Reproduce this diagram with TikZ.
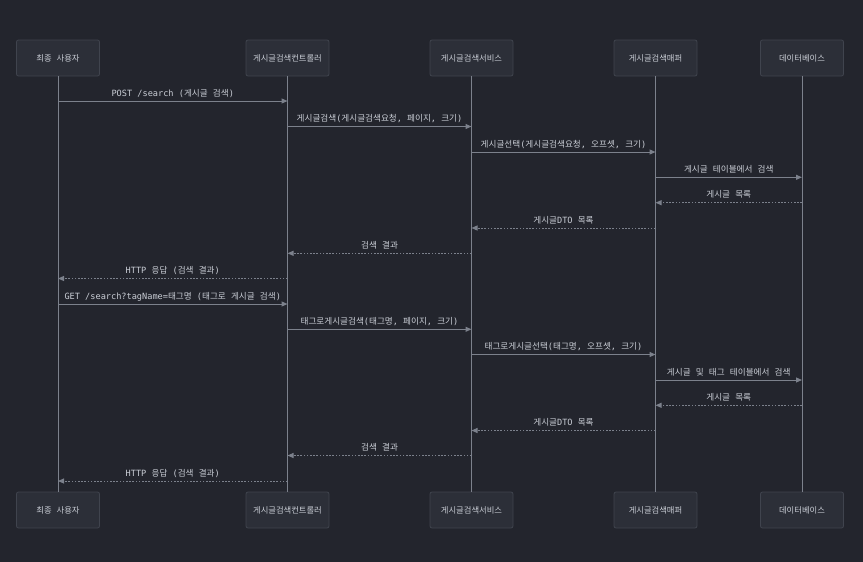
\documentclass[tikz,border=0pt]{standalone}
\usepackage{fontspec}
\setmainfont{DejaVu Sans Mono}
\newfontfamily\kr{Noto Sans CJK KR}
\usetikzlibrary{arrows.meta}
\definecolor{bgc}{HTML}{23252D}
\definecolor{boxfill}{HTML}{2C2F38}
\definecolor{boxline}{HTML}{40444E}
\definecolor{linec}{HTML}{7C818C}
\definecolor{txtc}{HTML}{CACED6}
\tikzset{
  actor/.style={draw=boxline, fill=boxfill, rounded corners=2pt, minimum width=83pt, minimum height=36pt, inner sep=0pt, text=txtc, font=\fontsize{8.3}{10}\selectfont, line width=0.8pt},
  life/.style={draw=linec, line width=0.9pt},
  msg/.style={draw=linec, line width=1pt, -{Triangle[length=6pt,width=5pt]}},
  ret/.style={msg, dash pattern=on 1.6pt off 1.6pt},
  lbl/.style={anchor=base, yshift=5pt, text=txtc, font=\fontsize{8.6}{10}\selectfont, inner sep=0pt}
}
\begin{document}
\begin{tikzpicture}[x=1pt,y=-1pt]
\fill[bgc] (0,0) rectangle (863,562);
\useasboundingbox (0,0) rectangle (863,562);
% actors top
\node[actor] (t1) at (58,58) {{\kr 최종} {\kr 사용자}};
\node[actor] (t2) at (287.5,58) {\kr 게시글검색컨트롤러};
\node[actor] (t3) at (471.5,58) {\kr 게시글검색서비스};
\node[actor] (t4) at (655.5,58) {\kr 게시글검색매퍼};
\node[actor] (t5) at (802,58) {\kr 데이터베이스};
% actors bottom
\node[actor] (b1) at (58,510) {{\kr 최종} {\kr 사용자}};
\node[actor] (b2) at (287.5,510) {\kr 게시글검색컨트롤러};
\node[actor] (b3) at (471.5,510) {\kr 게시글검색서비스};
\node[actor] (b4) at (655.5,510) {\kr 게시글검색매퍼};
\node[actor] (b5) at (802,510) {\kr 데이터베이스};
% lifelines
\foreach \i in {1,...,5} {\draw[life] (t\i.south) -- (b\i.north);}
% message rows
\coordinate (m1) at (0,101);
\coordinate (m2) at (0,126.5);
\coordinate (m3) at (0,152);
\coordinate (m4) at (0,177.3);
\coordinate (m5) at (0,202.7);
\coordinate (m6) at (0,228);
\coordinate (m7) at (0,253.3);
\coordinate (m8) at (0,278.5);
\coordinate (m9) at (0,304);
\coordinate (m10) at (0,329.3);
\coordinate (m11) at (0,354.5);
\coordinate (m12) at (0,380);
\coordinate (m13) at (0,405.3);
\coordinate (m14) at (0,430.5);
\coordinate (m15) at (0,455.5);
\coordinate (m16) at (0,481);
% messages
\draw[msg] (t1 |- m1) -- node[lbl] {POST /search ({\kr 게시글} {\kr 검색})} (t2 |- m1);
\draw[msg] (t2 |- m2) -- node[lbl] {{\kr 게시글검색}({\kr 게시글검색요청}, {\kr 페이지}, {\kr 크기})} (t3 |- m2);
\draw[msg] (t3 |- m3) -- node[lbl] {{\kr 게시글선택}({\kr 게시글검색요청}, {\kr 오프셋}, {\kr 크기})} (t4 |- m3);
\draw[msg] (t4 |- m4) -- node[lbl] {{\kr 게시글} {\kr 테이블에서} {\kr 검색}} (t5 |- m4);
\draw[ret] (t5 |- m5) -- node[lbl] {{\kr 게시글} {\kr 목록}} (t4 |- m5);
\draw[ret] (t4 |- m6) -- node[lbl] {{\kr 게시글}DTO {\kr 목록}} (t3 |- m6);
\draw[ret] (t3 |- m7) -- node[lbl] {{\kr 검색} {\kr 결과}} (t2 |- m7);
\draw[ret] (t2 |- m8) -- node[lbl] {HTTP {\kr 응답} ({\kr 검색} {\kr 결과})} (t1 |- m8);
\draw[msg] (t1 |- m9) -- node[lbl] {GET /search?tagName={\kr 태그명} ({\kr 태그로} {\kr 게시글} {\kr 검색})} (t2 |- m9);
\draw[msg] (t2 |- m10) -- node[lbl] {{\kr 태그로게시글검색}({\kr 태그명}, {\kr 페이지}, {\kr 크기})} (t3 |- m10);
\draw[msg] (t3 |- m11) -- node[lbl] {{\kr 태그로게시글선택}({\kr 태그명}, {\kr 오프셋}, {\kr 크기})} (t4 |- m11);
\draw[msg] (t4 |- m12) -- node[lbl] {{\kr 게시글} {\kr 및} {\kr 태그} {\kr 테이블에서} {\kr 검색}} (t5 |- m12);
\draw[ret] (t5 |- m13) -- node[lbl] {{\kr 게시글} {\kr 목록}} (t4 |- m13);
\draw[ret] (t4 |- m14) -- node[lbl] {{\kr 게시글}DTO {\kr 목록}} (t3 |- m14);
\draw[ret] (t3 |- m15) -- node[lbl] {{\kr 검색} {\kr 결과}} (t2 |- m15);
\draw[ret] (t2 |- m16) -- node[lbl] {HTTP {\kr 응답} ({\kr 검색} {\kr 결과})} (t1 |- m16);
\end{tikzpicture}
\end{document}
